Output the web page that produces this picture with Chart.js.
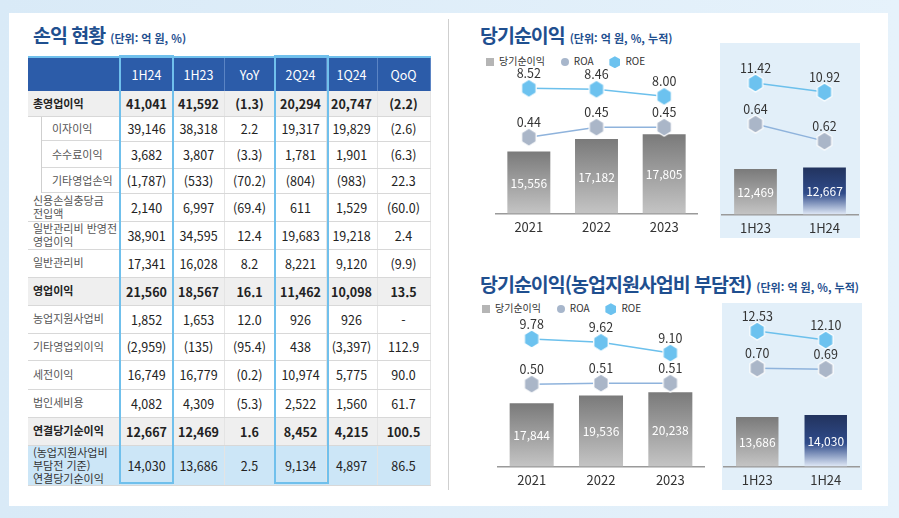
<!DOCTYPE html>
<html lang="ko">
<head>
<meta charset="utf-8">
<script src="https://cdn.jsdelivr.net/npm/chart.js@4.4.1/dist/chart.umd.min.js"></script>
<style>
  * { box-sizing: border-box; }
  body { margin: 0; width: 899px; height: 518px; background: linear-gradient(90deg, #d9eaf7, #e6f2fb); font-family: 'Noto Sans CJK KR', 'Noto Sans', sans-serif; position: relative; overflow: hidden; }
  .panel { position: absolute; left: 9px; top: 13px; width: 879px; height: 493px; background: #fff; }
  .title { position: absolute; color: #1f4f8f; font-size: 19.5px; font-weight: 700; line-height: 1; white-space: nowrap; letter-spacing: -1px; }
  .title small { font-size: 11px; font-weight: 700; letter-spacing: 0; margin-left: 5px; }
  .divider { position: absolute; left: 448px; top: 19px; width: 1px; height: 471px; background: #cfcfcf; }

  table { position: absolute; left: 28px; top: 56px; width: 402px; border-collapse: collapse; table-layout: fixed; }
  th { background: #2c5ca9; color: #fff; font-weight: 400; font-size: 12.5px; border-top: 2px solid #70c0ec; border-right: 1px solid #5b84c4; padding: 0; }
  td { text-align: center; font-size: 12.5px; color: #222; border-bottom: 1px solid #d8d8d8; border-right: 1px solid #e4e4e4; padding: 0; }
  td.lbl { text-align: left; font-size: 11px; color: #555; padding-left: 5px; line-height: 1.2; white-space: pre-line; }
  tr.sub td.lbl { padding-left: 24px; border-bottom: none;
    background: linear-gradient(#cfcfcf, #cfcfcf) 13px 0 / 1px 100% no-repeat,
                linear-gradient(#d8d8d8, #d8d8d8) 13px 100% / calc(100% - 13px) 1px no-repeat; }
  tr.total td { background: #efefef; font-weight: 700; }
  tr.total td.lbl { color: #222; }
  tr.last td { background: #cce6f7; }
  tr.last td.lbl { color: #333; }
  .hl { position: absolute; top: 55px; width: 55px; height: 429px; border: 2px solid #70c0ec; }

  .box { position: absolute; background: #e2eff9; }
  canvas { position: absolute; }
  .legend { position: absolute; font-size: 10px; color: #333; white-space: nowrap; line-height: 10px; }
  .legend i { display: inline-block; vertical-align: middle; margin-right: 5px; }
  .legend i.hex { clip-path: polygon(50% 0, 100% 25%, 100% 75%, 50% 100%, 0 75%, 0 25%); }
  .legend span { margin-right: 13px; }
</style>
</head>
<body>
<div class="panel"></div>
<div class="title" style="left:33px; top:25px;">손익 현황<small>(단위: 억 원, %)</small></div>
<div class="divider"></div>

<table id="pl"></table>
<div class="hl" style="left:119px;"></div>
<div class="hl" style="left:274px;"></div>

<div class="title" style="left:480px; top:25px;">당기순이익<small>(단위: 억 원, %, 누적)</small></div>
<div class="legend" style="left:486px; top:56px;">
  <span><i style="width:8px;height:8px;background:#b5b5b5"></i>당기순이익</span>
  <span><i style="width:8px;height:8px;border-radius:50%;background:#a7b6cb"></i>ROA</span>
  <span><i class="hex" style="width:11px;height:12px;background:#6cc2ef"></i>ROE</span>
</div>
<div class="box" style="left:720px; top:43px; width:140px; height:195px;"></div>
<canvas id="c1" width="203" height="179" style="left:495px; top:62px;"></canvas>
<canvas id="c2" width="138" height="190" style="left:721px; top:52px;"></canvas>

<div class="title" style="left:480px; top:274px;">당기순이익(농업지원사업비 부담전)<small>(단위: 억 원, %, 누적)</small></div>
<div class="legend" style="left:482px; top:303px;">
  <span><i style="width:8px;height:8px;background:#b5b5b5"></i>당기순이익</span>
  <span><i style="width:8px;height:8px;border-radius:50%;background:#a7b6cb"></i>ROA</span>
  <span><i class="hex" style="width:11px;height:12px;background:#6cc2ef"></i>ROE</span>
</div>
<div class="box" style="left:722px; top:303px; width:140px; height:187px;"></div>
<canvas id="c3" width="208" height="179" style="left:497px; top:315px;"></canvas>
<canvas id="c4" width="137" height="186" style="left:723px; top:308px;"></canvas>

<script>
// 표 데이터
const tableCols = ['1H24', '1H23', 'YoY', '2Q24', '1Q24', 'QoQ'];
const tableLabels = ['총영업이익', '이자이익', '수수료이익', '기타영업손익', '신용손실충당금\n전입액', '일반관리비 반영전\n영업이익',
  '일반관리비', '영업이익', '농업지원사업비', '기타영업외이익', '세전이익', '법인세비용', '연결당기순이익',
  '(농업지원사업비\n부담전 기준)\n연결당기순이익'];
const col1H24 = ['41,041', '39,146', '3,682', '(1,787)', '2,140', '38,901', '17,341', '21,560', '1,852', '(2,959)', '16,749', '4,082', '12,667', '14,030'];
const col1H23 = ['41,592', '38,318', '3,807', '(533)', '6,997', '34,595', '16,028', '18,567', '1,653', '(135)', '16,779', '4,309', '12,469', '13,686'];
const colYoY = ['(1.3)', '2.2', '(3.3)', '(70.2)', '(69.4)', '12.4', '8.2', '16.1', '12.0', '(95.4)', '(0.2)', '(5.3)', '1.6', '2.5'];
const col2Q24 = ['20,294', '19,317', '1,781', '(804)', '611', '19,683', '8,221', '11,462', '926', '438', '10,974', '2,522', '8,452', '9,134'];
const col1Q24 = ['20,747', '19,829', '1,901', '(983)', '1,529', '19,218', '9,120', '10,098', '926', '(3,397)', '5,775', '1,560', '4,215', '4,897'];
const colQoQ = ['(2.2)', '(2.6)', '(6.3)', '22.3', '(60.0)', '2.4', '(9.9)', '13.5', '-', '112.9', '90.0', '61.7', '100.5', '86.5'];
const rowKinds = ['total', 'sub', 'sub', 'sub', '', '', '', 'total', '', '', '', '', 'total', 'last'];

// 차트 데이터
const years = ['2021', '2022', '2023'];
const halves = ['1H23', '1H24'];
const netIncome = [15556, 17182, 17805];
const netRoa = [0.44, 0.45, 0.45];
const netRoe = [8.52, 8.46, 8.00];
const netIncomeH = [12469, 12667];
const netRoaH = [0.64, 0.62];
const netRoeH = [11.42, 10.92];
const preIncome = [17844, 19536, 20238];
const preRoa = [0.50, 0.51, 0.51];
const preRoe = [9.78, 9.62, 9.10];
const preIncomeH = [13686, 14030];
const preRoaH = [0.70, 0.69];
const preRoeH = [12.53, 12.10];

// 표 그리기
const rowHeights = [25, 25, 27, 25, 28, 28, 28, 28, 28, 27, 29, 28, 28, 39];
const colWidths = [92, 53, 51, 51, 51, 51, 53];
const table = document.getElementById('pl');
let html = '<colgroup>' + colWidths.map(w => `<col style="width:${w}px">`).join('') + '</colgroup>';
html += '<tr style="height:34px"><th></th>' + tableCols.map(c => `<th>${c}</th>`).join('') + '</tr>';
const cols = [col1H24, col1H23, colYoY, col2Q24, col1Q24, colQoQ];
tableLabels.forEach((label, i) => {
  html += `<tr class="${rowKinds[i]}" style="height:${rowHeights[i]}px"><td class="lbl">${label}</td>`;
  cols.forEach(col => { html += `<td>${col[i]}</td>`; });
  html += '</tr>';
});
table.innerHTML = html;

// 육각형 마커
function hexagon(fill) {
  const c = document.createElement('canvas');
  c.width = 18; c.height = 20;
  const g = c.getContext('2d');
  const cx = 9, cy = 10, r = 9;
  g.beginPath();
  for (let k = 0; k < 6; k++) {
    const a = Math.PI / 3 * k - Math.PI / 2;
    const px = cx + r * Math.cos(a) * 0.93, py = cy + r * Math.sin(a);
    k === 0 ? g.moveTo(px, py) : g.lineTo(px, py);
  }
  g.closePath();
  g.fillStyle = fill;
  g.fill();
  g.strokeStyle = '#ffffff';
  g.lineWidth = 1.3;
  g.stroke();
  return c;
}
const roeHex = hexagon('#6cc2ef');
const roaHex = hexagon('#aab6c8');

function barFill(dark) {
  return c => {
    const { ctx, chartArea, scales } = c.chart;
    if (!chartArea) return '#999';
    const top = scales.y.getPixelForValue(c.raw);
    const g = ctx.createLinearGradient(0, top, 0, chartArea.bottom);
    if (dark && c.dataIndex === c.dataset.data.length - 1) {
      g.addColorStop(0, '#22335e');
      g.addColorStop(0.55, '#2f4b8a');
      g.addColorStop(1, '#dfe8f6');
    } else {
      g.addColorStop(0, '#7a7a7a');
      g.addColorStop(1, '#c4c4c4');
    }
    return g;
  };
}

const valueLabels = {
  id: 'valueLabels',
  afterDatasetsDraw(chart) {
    const ctx = chart.ctx;
    const bottom = chart.chartArea.bottom;
    chart.data.datasets.forEach((ds, i) => {
      chart.getDatasetMeta(i).data.forEach((el, j) => {
        const v = ds.data[j];
        ctx.save();
        ctx.textAlign = 'center';
        ctx.textBaseline = 'middle';
        if (ds.type === 'bar') {
          ctx.fillStyle = '#ffffff';
          ctx.font = "12px 'Noto Sans CJK KR', sans-serif";
          ctx.fillText(v.toLocaleString('en-US'), el.x, (el.y + Math.min(el.base, bottom)) / 2 + 1);
        } else {
          ctx.fillStyle = '#333333';
          ctx.font = "12.5px 'Noto Sans CJK KR', sans-serif";
          ctx.fillText(v.toFixed(2), el.x, el.y - 15);
        }
        ctx.restore();
      });
    });
  }
};

function makeChart(id, labels, bars, roa, roe, dark, barPct, ranges) {
  new Chart(document.getElementById(id), {
    type: 'bar',
    data: {
      labels: labels,
      datasets: [
        { type: 'line', label: 'ROE', data: roe, yAxisID: 'yRoe', borderColor: '#6cc0ec', borderWidth: 1.5,
          pointStyle: roeHex, pointRadius: 8, clip: false, order: 0 },
        { type: 'line', label: 'ROA', data: roa, yAxisID: 'yRoa', borderColor: '#8fb3dc', borderWidth: 1.5,
          pointStyle: roaHex, pointRadius: 8, clip: false, order: 1 },
        { type: 'bar', label: '당기순이익', data: bars, yAxisID: 'y', backgroundColor: barFill(dark),
          base: ranges.bar[0], categoryPercentage: 1, barPercentage: barPct, order: 2 }
      ]
    },
    options: {
      responsive: false,
      animation: false,
      layout: { padding: 0, autoPadding: false },
      plugins: { legend: { display: false }, tooltip: { enabled: false } },
      scales: {
        x: {
          grid: { display: false, drawTicks: false },
          border: { color: '#9a9a9a', width: 1.5 },
          ticks: { color: '#333', font: { size: 13, family: "'Noto Sans CJK KR', sans-serif" }, padding: 6 }
        },
        y: { display: false, min: ranges.bar[0], max: ranges.bar[1] },
        yRoa: { display: false, min: ranges.roa[0], max: ranges.roa[1] },
        yRoe: { display: false, min: ranges.roe[0], max: ranges.roe[1] }
      }
    },
    plugins: [valueLabels]
  });
}

makeChart('c1', years, netIncome, netRoa, netRoe, false, 0.635,
  { bar: [7400, 27321], roa: [0.364, 0.515], roe: [0.4, 10.23] });
makeChart('c2', halves, netIncomeH, netRoaH, netRoeH, true, 0.62,
  { bar: [6500, 27816], roa: [0.534, 0.7246], roe: [4.14, 13.14] });
makeChart('c3', years, preIncome, preRoa, preRoe, false, 0.635,
  { bar: [4148, 36974], roa: [-0.32, 1.19], roe: [3.61, 10.94] });
makeChart('c4', halves, preIncomeH, preRoaH, preRoeH, true, 0.62,
  { bar: [5200, 32441], roa: [-0.28, 1.30], roe: [6.07, 13.63] });
</script>
</body>
</html>
